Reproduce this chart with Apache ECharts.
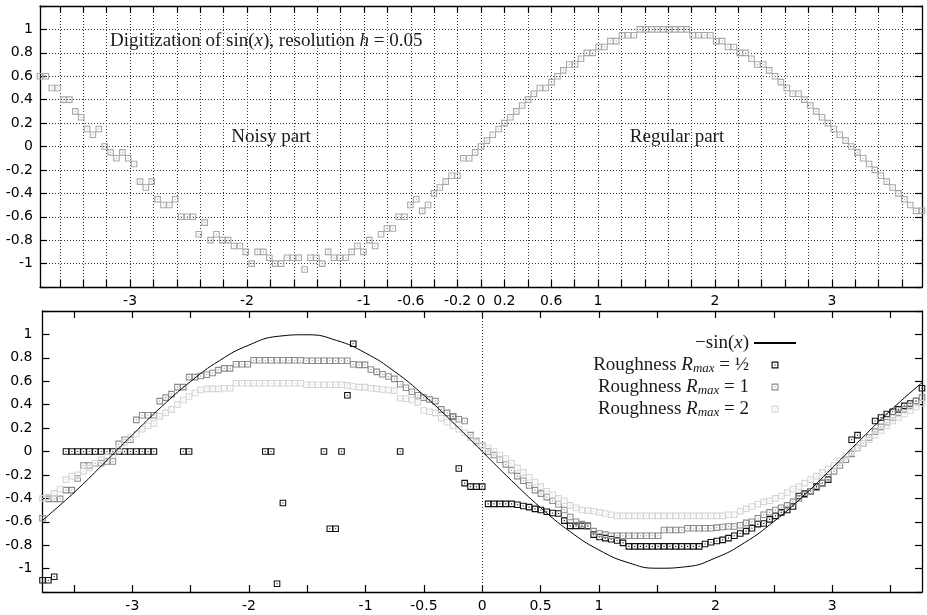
<!DOCTYPE html>
<html>
<head>
<meta charset="utf-8">
<title>Digitization of sin(x)</title>
<script src="https://cdn.jsdelivr.net/npm/echarts@6/dist/echarts.min.js"></script>
<style>
  html, body { margin: 0; padding: 0; background: #fff; }
  #chart { width: 927px; height: 615px; }
</style>
</head>
<body>
<div id="chart"></div>
<script>
// 151 samples over [-1.2*pi, 1.2*pi]
var N_SAMPLES = 151;
var X_MIN = -1.2 * Math.PI;
var X_MAX = 1.2 * Math.PI;

// top panel: digitization of sin(x), h = 0.05 (noisy for x < 0)
var digitized = [
  0.6, 0.6, 0.5, 0.5, 0.4, 0.4, 0.3, 0.25, 0.15, 0.1,
  0.15, 0, -0.05, -0.1, -0.05, -0.1, -0.15, -0.3, -0.35, -0.3,
  -0.45, -0.5, -0.5, -0.45, -0.6, -0.6, -0.6, -0.75, -0.65, -0.8,
  -0.75, -0.8, -0.8, -0.85, -0.85, -0.9, -1, -0.9, -0.9, -0.95,
  -1, -1, -0.95, -0.95, -0.95, -1.05, -0.95, -0.95, -1, -0.9,
  -0.95, -0.95, -0.95, -0.9, -0.85, -0.9, -0.8, -0.85, -0.75, -0.7,
  -0.7, -0.6, -0.6, -0.5, -0.45, -0.55, -0.5, -0.4, -0.35, -0.3,
  -0.25, -0.25, -0.1, -0.1, -0.05, 0, 0.05, 0.1, 0.15, 0.2,
  0.25, 0.3, 0.35, 0.4, 0.45, 0.5, 0.5, 0.55, 0.6, 0.65,
  0.7, 0.7, 0.75, 0.8, 0.8, 0.85, 0.85, 0.9, 0.9, 0.95,
  0.95, 0.95, 1, 1, 1, 1, 1, 1, 1, 1,
  1, 0.95, 0.95, 0.95, 0.95, 0.9, 0.9, 0.85, 0.85, 0.8,
  0.8, 0.75, 0.7, 0.7, 0.65, 0.6, 0.55, 0.5, 0.45, 0.45,
  0.4, 0.35, 0.3, 0.25, 0.2, 0.15, 0.1, 0.05, 0, -0.05,
  -0.1, -0.15, -0.2, -0.25, -0.3, -0.35, -0.4, -0.45, -0.5, -0.55,
  -0.55
];

// bottom panel: reconstructions (null = hidden under the other series)
var roughHalf = [
  -1.1, -1.1, -1.07, null, 0, 0, 0, 0, 0, 0,
  0, 0, 0, 0, 0, 0, 0, 0, 0, 0,
  null, null, null, null, 0, 0, null, null, null, null,
  null, null, null, null, null, null, null, null, 0, 0,
  -1.13, -0.44, null, null, null, null, null, null, 0, -0.66,
  -0.66, 0, 0.48, 0.92, null, null, null, null, null, null,
  null, 0, null, null, null, null, null, null, null, null,
  0.3, -0.145, -0.27, -0.3, -0.3, -0.3, -0.447, -0.447, -0.447, -0.447,
  -0.447, -0.455, -0.465, -0.475, -0.49, -0.5, -0.515, -0.525, -0.53, -0.59,
  -0.635, -0.635, -0.635, -0.635, -0.71, -0.73, -0.74, -0.75, -0.76, -0.78,
  -0.81, -0.81, -0.81, -0.81, -0.81, -0.81, -0.81, -0.81, -0.81, -0.81,
  -0.81, -0.81, -0.81, -0.79, -0.775, -0.765, -0.755, -0.74, -0.72, -0.7,
  -0.68, -0.655, -0.62, -0.615, -0.58, -0.55, -0.52, -0.5, -0.47, -0.38,
  -0.36, -0.34, -0.3, -0.27, -0.24, null, null, null, 0.1, 0.14,
  null, null, 0.26, 0.29, 0.32, 0.34, 0.36, 0.39, 0.41, 0.43,
  0.54
];
var roughOne = [
  -0.57, -0.405, -0.405, -0.405, -0.33, -0.33, -0.23, -0.12, -0.12, -0.1,
  -0.1, -0.085, -0.085, 0.065, 0.1, 0.1, 0.27, 0.31, 0.31, 0.31,
  0.43, 0.46, 0.49, 0.55, 0.55, 0.635, 0.635, 0.645, 0.655, 0.67,
  0.695, 0.71, 0.71, 0.745, 0.745, 0.745, 0.78, 0.78, 0.78, 0.78,
  0.78, 0.78, 0.78, 0.78, 0.78, 0.775, 0.775, 0.775, 0.775, 0.775,
  0.775, 0.775, 0.775, 0.745, 0.74, 0.74, 0.7, 0.68, 0.66, 0.64,
  0.62, 0.575, 0.545, 0.51, 0.48, 0.46, 0.445, 0.43, 0.36, 0.33,
  0.3, 0.275, 0.26, 0.14, 0.09, 0.05, 0, -0.03, -0.07, -0.11,
  -0.16, -0.21, -0.25, -0.29, -0.33, -0.36, -0.39, -0.42, -0.45, -0.5,
  -0.56, -0.6, -0.62, -0.64, -0.68, -0.7, -0.71, -0.72, -0.72, -0.72,
  -0.72, -0.72, -0.72, -0.72, -0.72, -0.72, -0.67, -0.67, -0.67, -0.67,
  -0.655, -0.655, -0.655, -0.655, -0.655, -0.65, -0.645, -0.64, -0.64, -0.63,
  -0.61, -0.6, -0.57, -0.54, -0.52, -0.5, -0.48, -0.46, -0.43, -0.4,
  -0.37, -0.34, -0.31, -0.27, -0.22, -0.17, -0.12, -0.07, -0.02, 0.03,
  0.07, 0.12, 0.17, 0.21, 0.25, 0.29, 0.33, 0.36, 0.39, 0.43,
  0.46
];
var roughTwo = [
  -0.4, -0.39, -0.36, -0.32, -0.24, -0.21, -0.2, -0.17, -0.14, -0.1,
  -0.07, -0.05, -0.03, 0.02, 0.08, 0.12, 0.15, 0.19, 0.22, 0.24,
  0.3, 0.33, 0.36, 0.4, 0.44, 0.47, 0.5, 0.525, 0.535, 0.535,
  0.535, 0.54, 0.54, 0.583, 0.583, 0.583, 0.583, 0.583, 0.583, 0.583,
  0.583, 0.583, 0.583, 0.583, 0.583, 0.57, 0.57, 0.57, 0.57, 0.57,
  0.57, 0.57, 0.565, 0.555, 0.55, 0.55, 0.54, 0.535, 0.53, 0.525,
  0.52, 0.455, 0.45, 0.44, 0.42, 0.35, 0.34, 0.33, 0.285, 0.25,
  0.22, 0.19, 0.16, 0.12, 0.08, 0.05, 0.03, 0, -0.03, -0.06,
  -0.1, -0.14, -0.18, -0.22, -0.26, -0.3, -0.34, -0.37, -0.4, -0.42,
  -0.46, -0.48, -0.5, -0.505, -0.51, -0.52, -0.53, -0.54, -0.55, -0.55,
  -0.55, -0.55, -0.55, -0.55, -0.55, -0.55, -0.55, -0.55, -0.55, -0.55,
  -0.55, -0.55, -0.55, -0.55, -0.55, -0.55, -0.55, -0.54, -0.54, -0.51,
  -0.49, -0.47, -0.45, -0.43, -0.42, -0.4, -0.38, -0.35, -0.32, -0.3,
  -0.27, -0.24, -0.21, -0.18, -0.15, -0.12, -0.08, -0.04, -0.01, 0.03,
  0.07, 0.1, 0.14, 0.18, 0.22, 0.26, 0.29, 0.32, 0.35, 0.38,
  0.41
];

// -sin(x) reference curve
var curveX = [-3.77, -3.5, -3.25, -3, -2.75, -2.5, -2.25, -2, -1.75, -1.5, -1.25, -1, -0.75, -0.5, -0.25,
  0, 0.25, 0.5, 0.75, 1, 1.25, 1.5, 1.75, 2, 2.25, 2.5, 2.75, 3, 3.25, 3.5, 3.77];
var curveY = [-0.588, -0.351, -0.108, 0.141, 0.382, 0.598, 0.778, 0.909, 0.984, 0.997, 0.949, 0.841, 0.682, 0.479, 0.247,
  0, -0.247, -0.479, -0.682, -0.841, -0.949, -0.997, -0.984, -0.909, -0.778, -0.598, -0.382, -0.141, 0.108, 0.351, 0.588];

// ticks and labels
var topTickX = [-3.6, -3.4, -3.2, -3, -2.8, -2.6, -2.4, -2.2, -2, -1.8, -1.6, -1.4, -1.2, -1, -0.8, -0.6, -0.4, -0.2,
  0, 0.2, 0.4, 0.6, 0.8, 1, 1.2, 1.4, 1.6, 1.8, 2, 2.2, 2.4, 2.6, 2.8, 3, 3.2, 3.4, 3.6];
var topLabelX = [-3, -2, -1, -0.6, -0.2, 0, 0.2, 0.6, 1, 2, 3];
var bottomTickX = [-3.5, -3, -2.5, -2, -1.5, -1, -0.5, 0, 0.5, 1, 1.5, 2, 2.5, 3, 3.5];
var bottomLabelX = [-3, -2, -1, -0.5, 0, 0.5, 1, 2, 3];

var seriesNames = ["-sin(x)", "Roughness Rmax = 1/2", "Roughness Rmax = 1", "Roughness Rmax = 2"];
var legendText = {};
legendText[seriesNames[0]] = "\u2212sin({i|x})";
legendText[seriesNames[1]] = "Roughness {i|R}{sub|max} = \u00bd";
legendText[seriesNames[2]] = "Roughness {i|R}{sub|max} = 1";
legendText[seriesNames[3]] = "Roughness {i|R}{sub|max} = 2";

var step = (X_MAX - X_MIN) / (N_SAMPLES - 1);
function pairs(vals) {
  var out = [];
  for (var i = 0; i < vals.length; i++) {
    if (vals[i] !== null) out.push([X_MIN + i * step, vals[i]]);
  }
  return out;
}
function curve() {
  var out = [];
  for (var i = 0; i < curveX.length; i++) out.push([curveX[i], curveY[i]]);
  return out;
}

var SQUARE = "path://M0 0H6V6H0Z M1 1V5H5V1Z M2.5 2.5H3.5V3.5H2.5Z";
var SANS = "DejaVu Sans";
var SERIF = "Liberation Serif";
var FS = 19;
var dotted = { color: "#333", width: 1, type: [1, 2] };

function numLabel(v) {
  var r = Math.round(v * 10) / 10;
  if (Math.abs(r) > 1.1) return "";
  return String(r);
}

function xAxis(grid, pos, ticks, labels, split, margin) {
  return {
    type: "value", gridIndex: grid, position: pos, min: X_MIN, max: X_MAX,
    axisLine: { show: true, onZero: false, lineStyle: { color: "#000", width: 1.3 } },
    axisTick: { show: true, inside: true, length: 7, customValues: ticks, lineStyle: { color: "#000", width: 1.2 } },
    axisLabel: labels ? {
      show: true, customValues: labels, margin: margin, color: "#000", fontFamily: SANS, fontSize: 14,
      formatter: function (v) { return String(Math.round(v * 10) / 10); }
    } : { show: false },
    splitLine: split ? { show: true, lineStyle: dotted } : { show: false }
  };
}
function yAxis(grid, pos, labels, split, margin) {
  return {
    type: "value", gridIndex: grid, position: pos, min: -1.2, max: 1.2, interval: 0.2,
    axisLine: { show: true, onZero: false, lineStyle: { color: "#000", width: 1.3 } },
    axisTick: { show: true, inside: true, length: 7, lineStyle: { color: "#000", width: 1.2 } },
    axisLabel: labels ? { show: true, margin: margin, color: "#000", fontFamily: SANS, fontSize: 14, formatter: numLabel } : { show: false },
    splitLine: split ? { show: true, lineStyle: dotted } : { show: false }
  };
}
function squares(name, vals, color, xi, yi) {
  return {
    name: name, type: "scatter", xAxisIndex: xi, yAxisIndex: yi,
    symbol: SQUARE, symbolSize: 6.6, clip: false, silent: true,
    itemStyle: { color: color, opacity: 1 },
    data: pairs(vals)
  };
}

var myChart = echarts.init(document.getElementById("chart"));
var option = {
  animation: false,
  backgroundColor: "#fff",
  grid: [
    { left: 40, right: 5, top: 6, height: 281, outerBoundsMode: "none" },
    { left: 42.5, right: 5, top: 311, height: 281, outerBoundsMode: "none" }
  ],
  xAxis: [
    xAxis(0, "bottom", topTickX, topLabelX, true, 7),
    xAxis(0, "top", topTickX, null, false),
    xAxis(1, "bottom", bottomTickX, bottomLabelX, false, 7),
    xAxis(1, "top", bottomTickX, null, false)
  ],
  yAxis: [
    yAxis(0, "left", true, true, 7),
    yAxis(0, "right", false, false),
    yAxis(1, "left", true, false, 10),
    yAxis(1, "right", false, false)
  ],
  legend: {
    orient: "vertical", align: "right", right: 130, top: 333, padding: 0,
    itemWidth: 42, itemHeight: 7, itemGap: 2, selectedMode: false,
    data: [
      { name: seriesNames[0], itemStyle: { opacity: 0 } },
      seriesNames[1], seriesNames[2], seriesNames[3]
    ],
    formatter: function (name) { return legendText[name]; },
    textStyle: {
      fontFamily: SERIF, fontSize: FS, color: "#1a1a1a", lineHeight: 20,
      rich: {
        i: { fontFamily: SERIF, fontSize: FS, fontStyle: "italic", color: "#1a1a1a", lineHeight: 20 },
        sub: { fontFamily: SERIF, fontSize: 13, fontStyle: "italic", color: "#1a1a1a", lineHeight: 13, verticalAlign: "bottom" }
      }
    }
  },
  graphic: [
    {
      type: "text", x: 110, y: 41, silent: true,
      style: {
        text: "Digitization of sin({i|x}), resolution {i|h} = 0.05",
        fontFamily: SERIF, fontSize: FS, fill: "#1a1a1a", verticalAlign: "middle",
        rich: { i: { fontFamily: SERIF, fontSize: FS, fontStyle: "italic", fill: "#1a1a1a" } }
      }
    },
    { type: "text", x: 271, y: 137, silent: true,
      style: { text: "Noisy part", fontFamily: SERIF, fontSize: FS, fill: "#1a1a1a", align: "center", verticalAlign: "middle" } },
    { type: "text", x: 677, y: 137, silent: true,
      style: { text: "Regular part", fontFamily: SERIF, fontSize: FS, fill: "#1a1a1a", align: "center", verticalAlign: "middle" } }
  ],
  series: [
    squares("digitized", digitized, "#a8a8a8", 0, 0),
    {
      name: seriesNames[0], type: "line", xAxisIndex: 2, yAxisIndex: 2,
      smooth: true, symbol: "none", showSymbol: false, silent: true,
      itemStyle: { color: "#000" },
      lineStyle: { color: "#000", width: 1 },
      data: curve(),
      markLine: {
        silent: true, symbol: ["none", "none"], label: { show: false },
        lineStyle: dotted,
        data: [{ xAxis: 0 }]
      }
    },
    squares(seriesNames[1], roughHalf, "#111", 2, 2),
    squares(seriesNames[2], roughOne, "#8c8c8c", 2, 2),
    squares(seriesNames[3], roughTwo, "#d6d6d6", 2, 2)
  ]
};
myChart.setOption(option);
</script>
</body>
</html>
